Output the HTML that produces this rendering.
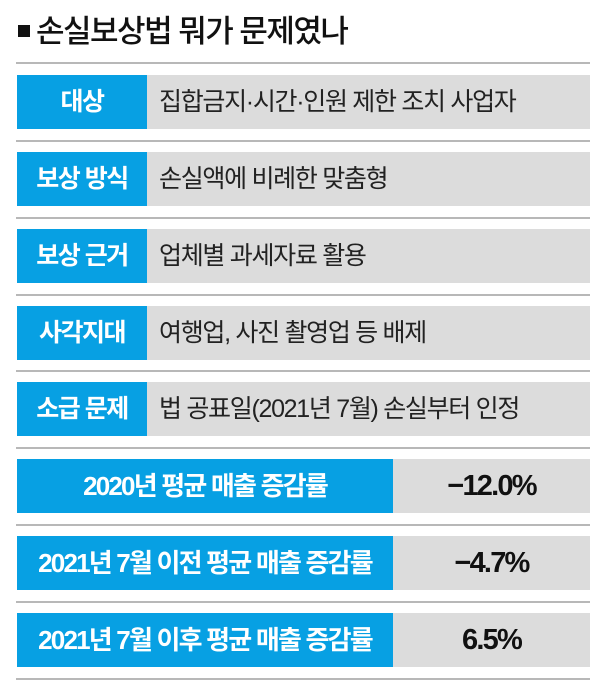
<!DOCTYPE html>
<html><head><meta charset="utf-8"><style>
body{margin:0;width:600px;height:696px;background:#fff;position:relative;overflow:hidden;font-family:"Liberation Sans","Noto Sans CJK KR",sans-serif;}
.t{position:absolute;left:18px;top:6px;font-size:31px;font-weight:500;color:#111;letter-spacing:-1.5px;white-space:nowrap}
.t b{display:inline-block;width:12px;height:12px;background:#111;margin-right:6px;vertical-align:5px}
.ln{position:absolute;left:16px;width:574px;height:2px;background:#b8b8b8}
.row{position:absolute;left:17px;width:573px;height:54px;background:#dcdcdc}
.lab{position:absolute;left:0;top:0;height:54px;background:#07a0e3;color:#fff;font-weight:700;font-size:25px;line-height:54px;text-align:center;letter-spacing:-1.5px;white-space:nowrap}
.lab.w{font-size:26px;letter-spacing:-1.8px}
.txt{position:absolute;left:142px;top:0;line-height:54px;font-size:25px;color:#222;letter-spacing:-1.3px;white-space:nowrap}
.val{position:absolute;left:376px;right:0;top:0;line-height:54px;font-size:29px;font-weight:700;color:#111;text-align:center;letter-spacing:-1.8px}
</style></head><body>
<div class="t"><b></b>손실보상법 뭐가 문제였나</div>
<div class="ln" style="top:62px"></div>
<div class="row" style="top:75px"><div class="lab" style="width:130px">대상</div><div class="txt">집합금지·시간·인원 제한 조치 사업자</div></div>
<div class="ln" style="top:140px"></div>
<div class="row" style="top:152px"><div class="lab" style="width:130px">보상 방식</div><div class="txt">손실액에 비례한 맞춤형</div></div>
<div class="ln" style="top:217px"></div>
<div class="row" style="top:229px"><div class="lab" style="width:130px">보상 근거</div><div class="txt">업체별 과세자료 활용</div></div>
<div class="ln" style="top:294px"></div>
<div class="row" style="top:306px"><div class="lab" style="width:130px">사각지대</div><div class="txt">여행업, 사진 촬영업 등 배제</div></div>
<div class="ln" style="top:370px"></div>
<div class="row" style="top:382px"><div class="lab" style="width:130px">소급 문제</div><div class="txt">법 공표일(2021년 7월) 손실부터 인정</div></div>
<div class="ln" style="top:447px"></div>
<div class="row" style="top:459px"><div class="lab w" style="width:376px">2020년 평균 매출 증감률</div><div class="val">−12.0%</div></div>
<div class="ln" style="top:524px"></div>
<div class="row" style="top:536px"><div class="lab w" style="width:376px">2021년 7월 이전 평균 매출 증감률</div><div class="val">−4.7%</div></div>
<div class="ln" style="top:601px"></div>
<div class="row" style="top:613px"><div class="lab w" style="width:376px">2021년 7월 이후 평균 매출 증감률</div><div class="val">6.5%</div></div>
<div class="ln" style="top:678px"></div>
</body></html>
